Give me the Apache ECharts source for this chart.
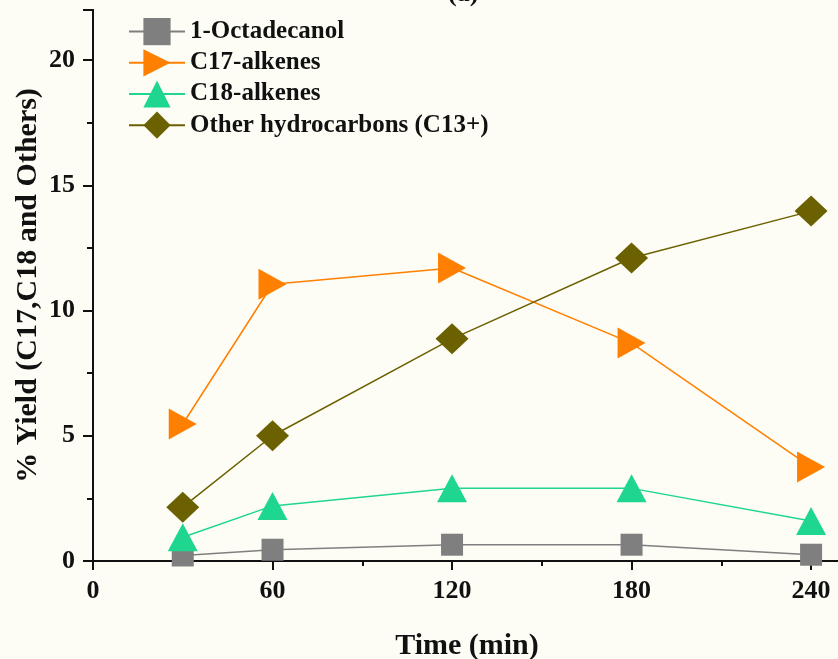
<!DOCTYPE html>
<html>
<head>
<meta charset="utf-8">
<script src="https://cdn.jsdelivr.net/npm/echarts@6/dist/echarts.min.js"></script>
<style>html,body{margin:0;padding:0;background:#fdfdf6;}#c{width:838px;height:659px;}</style>
</head>
<body>
<div id="c"></div>
<script>
const times = [30, 60, 120, 180, 240];
const octadecanol = [0.22, 0.45, 0.65, 0.65, 0.25];
const c17Alkenes = [5.47, 11.05, 11.7, 8.7, 3.75];
const c18Alkenes = [0.95, 2.2, 2.9, 2.9, 1.6];
const otherHC = [2.15, 5.0, 8.87, 12.1, 13.97];
const seriesNames = ['1-Octadecanol', 'C17-alkenes', 'C18-alkenes', 'Other hydrocarbons (C13+)'];
const xTicks = [0, 60, 120, 180, 240];
const yTicks = [0, 5, 10, 15, 20];

const font = 'Liberation Serif, Times New Roman, serif';
const chart = echarts.init(document.getElementById('c'));
const pair = arr => times.map((t, i) => [t, arr[i]]);

const axisLine = {show: true, lineStyle: {color: '#111', width: 2}};
chart.setOption({
  backgroundColor: '#fdfdf6',
  animation: false,
  title: {text: '(a)', left: 443, top: -24, textStyle: {fontFamily: font, fontWeight: 'bold', fontSize: 26, color: '#111'}},
  grid: {left: 93, top: 10, width: 748, height: 551, containLabel: false, outerBoundsMode: 'none'},
  legend: {
    orient: 'vertical', left: 123, top: 13, itemWidth: 56, itemHeight: 34, itemGap: 4,
    lineStyle: {width: 2},
    textStyle: {fontFamily: font, fontWeight: 'bold', fontSize: 25, color: '#111'},
    data: seriesNames
  },
  xAxis: [{
    type: 'value', min: 0, max: 250, interval: 60, position: 'bottom',
    name: 'Time (min)', nameLocation: 'middle', nameGap: 70,
    nameTextStyle: {fontFamily: font, fontWeight: 'bold', fontSize: 30, color: '#111'},
    axisLine: axisLine,
    axisTick: {show: true, inside: false, length: 9, lineStyle: {color: '#111', width: 2}},
    minorTick: {show: true, splitNumber: 2, length: 5, lineStyle: {color: '#111', width: 2}},
    axisLabel: {showMaxLabel: false, margin: 17, fontFamily: font, fontWeight: 'bold', fontSize: 26, color: '#111',
      formatter: v => xTicks.includes(v) ? String(v) : ''},
    splitLine: {show: false}
  }, {
    type: 'value', min: 0, max: 250, interval: 60, position: 'top',
    axisLine: axisLine,
    axisTick: {show: true, inside: true, length: 9, lineStyle: {color: '#111', width: 2}},
    minorTick: {show: true, splitNumber: 2, length: 5, lineStyle: {color: '#111', width: 2}},
    axisLabel: {show: false}, splitLine: {show: false}
  }],
  yAxis: [{
    type: 'value', min: 0, max: 22, interval: 5, position: 'left',
    name: '% Yield (C17,C18 and Others)', nameLocation: 'middle', nameGap: 50, nameMoveOverlap: false,
    nameTextStyle: {fontFamily: font, fontWeight: 'bold', fontSize: 30, color: '#111'},
    axisLine: axisLine,
    axisTick: {show: true, inside: false, length: 10, lineStyle: {color: '#111', width: 2}},
    minorTick: {show: true, splitNumber: 2, length: 6, lineStyle: {color: '#111', width: 2}},
    axisLabel: {showMaxLabel: false, margin: 18, fontFamily: font, fontWeight: 'bold', fontSize: 26, color: '#111',
      formatter: v => yTicks.includes(v) ? String(v) : ''},
    splitLine: {show: false}
  }, {
    type: 'value', min: 0, max: 22, interval: 5, position: 'right',
    axisLine: axisLine,
    axisTick: {show: true, inside: true, length: 10, lineStyle: {color: '#111', width: 2}},
    minorTick: {show: true, splitNumber: 2, length: 6, lineStyle: {color: '#111', width: 2}},
    axisLabel: {show: false}, splitLine: {show: false}
  }],
  series: [
    {name: seriesNames[0], type: 'line', data: pair(octadecanol), symbol: 'rect', symbolSize: 22,
      itemStyle: {color: '#7f7f7f'}, lineStyle: {color: '#7f7f7f', width: 1.5}, z: 2},
    {name: seriesNames[1], type: 'line', data: pair(c17Alkenes), symbol: 'triangle', symbolSize: [31, 28], symbolRotate: -90,
      itemStyle: {color: '#ff8000'}, lineStyle: {color: '#ff8000', width: 1.5}, z: 3},
    {name: seriesNames[2], type: 'line', data: pair(c18Alkenes), symbol: 'triangle', symbolSize: [30, 28],
      itemStyle: {color: '#1fd68e'}, lineStyle: {color: '#1fd68e', width: 1.5}, z: 4},
    {name: seriesNames[3], type: 'line', data: pair(otherHC), symbol: 'diamond', symbolSize: [33, 31],
      itemStyle: {color: '#6b6100'}, lineStyle: {color: '#6b6100', width: 1.5}, z: 5}
  ]
});
</script>
</body>
</html>
